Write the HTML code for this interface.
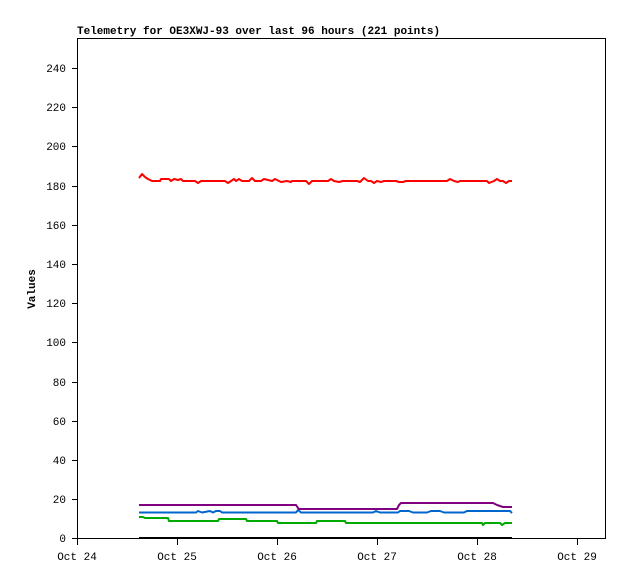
<!DOCTYPE html>
<html><head><style>body{margin:0;background:#fff}svg{display:block}</style></head><body>
<svg width="618" height="579" xmlns="http://www.w3.org/2000/svg" font-family="Liberation Mono, DejaVu Sans Mono, monospace" font-size="11">
<rect x="0" y="0" width="618" height="579" fill="#fff"/>
<text x="77" y="34" font-weight="bold" font-size="11">Telemetry for OE3XWJ-93 over last 96 hours (221 points)</text>
<rect x="77.5" y="38.5" width="528" height="500" fill="none" stroke="#000"/>
<g stroke="#000">
<line x1="72" y1="538.5" x2="77" y2="538.5"/><line x1="72" y1="499.5" x2="77" y2="499.5"/><line x1="72" y1="460.5" x2="77" y2="460.5"/><line x1="72" y1="421.5" x2="77" y2="421.5"/><line x1="72" y1="382.5" x2="77" y2="382.5"/><line x1="72" y1="342.5" x2="77" y2="342.5"/><line x1="72" y1="303.5" x2="77" y2="303.5"/><line x1="72" y1="264.5" x2="77" y2="264.5"/><line x1="72" y1="225.5" x2="77" y2="225.5"/><line x1="72" y1="186.5" x2="77" y2="186.5"/><line x1="72" y1="146.5" x2="77" y2="146.5"/><line x1="72" y1="107.5" x2="77" y2="107.5"/><line x1="72" y1="68.5" x2="77" y2="68.5"/>
<line x1="77.5" y1="538" x2="77.5" y2="545"/><line x1="177.5" y1="538" x2="177.5" y2="545"/><line x1="277.5" y1="538" x2="277.5" y2="545"/><line x1="377.5" y1="538" x2="377.5" y2="545"/><line x1="477.5" y1="538" x2="477.5" y2="545"/><line x1="577.5" y1="538" x2="577.5" y2="545"/>
</g>
<g text-anchor="end">
<text x="66" y="542">0</text><text x="66" y="503">20</text><text x="66" y="464">40</text><text x="66" y="425">60</text><text x="66" y="386">80</text><text x="66" y="346">100</text><text x="66" y="307">120</text><text x="66" y="268">140</text><text x="66" y="229">160</text><text x="66" y="190">180</text><text x="66" y="150">200</text><text x="66" y="111">220</text><text x="66" y="72">240</text>
</g>
<g text-anchor="middle">
<text x="77" y="560">Oct 24</text><text x="177" y="560">Oct 25</text><text x="277" y="560">Oct 26</text><text x="377" y="560">Oct 27</text><text x="477" y="560">Oct 28</text><text x="577" y="560">Oct 29</text>
</g>
<text transform="translate(35,289) rotate(-90)" text-anchor="middle" font-weight="bold">Values</text>
<g fill="none" stroke-width="2" stroke-linejoin="round">
<polyline stroke="#000" points="139,538 512,538"/>
<polyline stroke="#00aa00" points="139,517 143,517 145,518 168,518 169,521 218,521 219,519 246,519 247,521 277,521 278,523 316,523 317,521 345,521 346,523 482,523 483,525 485,523 500,523 502,525 505,523 512,523"/>
<polyline stroke="#0066cc" points="139,512.5 196,512.5 198,511 202,512.5 210,511 213,512.5 216,511 220,511 222,512.5 296,512.5 298,510 301,512.5 373,512.5 376,511 380,512.5 398,512.5 400,511 409,511 413,512.5 427,512.5 431,511 440,511 444,512.5 464,512.5 467,511 510,511 512,513"/>
<polyline stroke="#800080" points="139,505 296,505 298,508 299,509 397,509 399,505 401,503 493,503 497,505 503,507 512,507"/>
<polyline stroke="#ff0000" points="139,178 142,174 145,177 148,179 152,181 160,181 161,179 169,179 171,181 174,179 178,180 181,179 183,181 195,181 198,183 201,181 225,181 228,183 231,181 234,179 236,181 239,179 242,181 249,181 252,178 255,181 261,181 264,179 268,180 272,181 275,179 279,181 281,182 287,181 291,182 292,181 306,181 309,184 312,181 328,181 331,179 334,181 339,182 343,181 357,181 360,182 364,178 368,181 371,181 374,183 377,181 381,182 384,181 396,181 399,182 403,182 406,181 447,181 450,179 454,181 458,182 460,181 487,181 489,183 494,181 497,179 500,181 503,181 506,183 509,181 512,181"/>
</g>
</svg>
</body></html>
